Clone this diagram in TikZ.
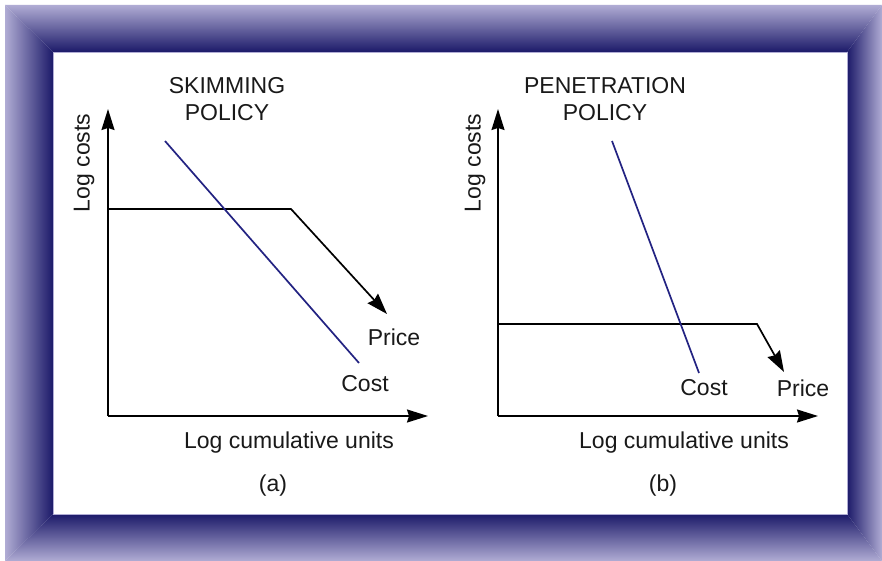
\documentclass[tikz,border=0pt]{standalone}
\usepackage{fontspec}
\setmainfont{Liberation Sans}
\usetikzlibrary{arrows.meta}
\definecolor{frameLight}{RGB}{176,172,212}
\definecolor{frameDark}{RGB}{28,26,105}
\definecolor{costBlue}{RGB}{35,35,130}
\tikzset{
  lbl/.style={font=\fontsize{23}{27}\selectfont, text=black!90, inner sep=0pt, align=center},
  axis/.style={line width=1.7pt, -{Stealth[length=21pt,width=13pt,inset=2pt]}},
  pricecurve/.style={line width=1.7pt, -{Stealth[length=21pt,width=14pt,inset=2pt]}},
  costcurve/.style={line width=1.7pt, costBlue},
}
\begin{document}
\begin{tikzpicture}[x=1pt,y=-1pt]
\useasboundingbox[fill=white] (0,0) rectangle (882,561);
% frame
\shade[top color=frameLight, bottom color=frameDark] (5,5) -- (882,5) -- (847,52) -- (53,52) -- cycle;
\shade[top color=frameDark, bottom color=frameLight] (53,514) -- (847,514) -- (882,561) -- (5,561) -- cycle;
\shade[left color=frameLight, right color=frameDark] (5,5) -- (53,52) -- (53,514) -- (5,561) -- cycle;
\shade[left color=frameDark, right color=frameLight] (882,5) -- (882,561) -- (847,514) -- (847,52) -- cycle;
\draw[frameLight, line width=0.8pt] (53,52) rectangle (847,514);

% panel (a)
\coordinate (aO) at (108,416);
\coordinate (aY) at (108,109);
\coordinate (aX) at (428,416);
\draw[axis] (aO) -- (aY);
\draw[axis] (aO) -- (aX);
\coordinate (aP0) at (108,209);
\coordinate (aP1) at (291,209);
\coordinate (aP2) at (387,314);
\draw[pricecurve] (aP0) -- (aP1) -- (aP2);
\coordinate (aC0) at (165,141);
\coordinate (aC1) at (359,363);
\draw[costcurve] (aC0) -- (aC1);
\node[lbl] (aTitle) at (227,99) {SKIMMING\\POLICY};
\node[lbl, rotate=90] (aYl) at (84,163) {Log costs};
\node[lbl] (aPrice) at (394,337) {Price};
\node[lbl] (aCost) at (365,384) {Cost};
\node[lbl] (aXl) at (289,443) {Log cumulative units};
\node[lbl] (aTag) at (273,486) {(a)};

% panel (b)
\coordinate (bO) at (498,416);
\coordinate (bY) at (498,109);
\coordinate (bX) at (818,416);
\draw[axis] (bO) -- (bY);
\draw[axis] (bO) -- (bX);
\coordinate (bP0) at (498,324);
\coordinate (bP1) at (757,324);
\coordinate (bP2) at (784,372);
\draw[pricecurve] (bP0) -- (bP1) -- (bP2);
\coordinate (bC0) at (612,141);
\coordinate (bC1) at (699,373);
\draw[costcurve] (bC0) -- (bC1);
\node[lbl] (bTitle) at (605,99) {PENETRATION\\POLICY};
\node[lbl, rotate=90] (bYl) at (475,163) {Log costs};
\node[lbl] (bCost) at (704,388) {Cost};
\node[lbl] (bPrice) at (803,388) {Price};
\node[lbl] (bXl) at (684,443) {Log cumulative units};
\node[lbl] (bTag) at (663,486) {(b)};
\end{tikzpicture}
\end{document}
